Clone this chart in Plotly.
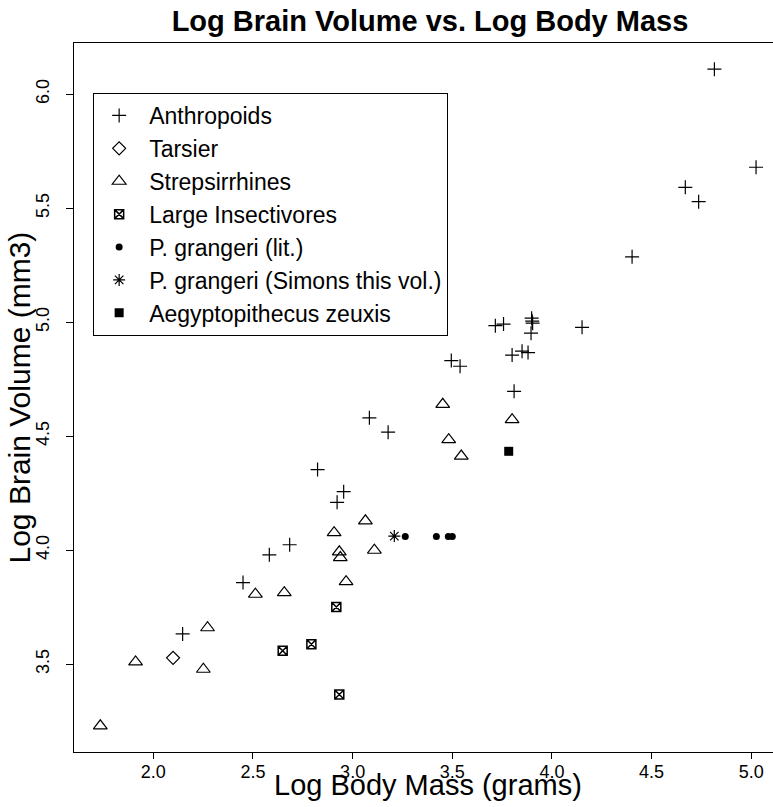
import plotly.graph_objects as go

# ---- data (log10 body mass in grams, log10 brain volume in mm3) ----
anthro_x = [2.147, 2.450, 2.582, 2.684, 2.824, 2.922, 2.955, 3.084, 3.178, 3.495,
            3.539, 3.716, 3.757, 3.800, 3.810, 3.850, 3.880, 3.895, 3.898, 3.901,
            3.903, 4.151, 4.402, 4.669, 4.736, 4.815, 5.024]
anthro_y = [3.633, 3.858, 3.980, 4.024, 4.354, 4.210, 4.257, 4.581, 4.518, 4.832,
            4.807, 4.985, 4.992, 4.856, 4.697, 4.873, 4.867, 4.952, 5.018, 5.005,
            4.996, 4.978, 5.287, 5.592, 5.529, 6.110, 5.680]

tarsier_x = [2.099]
tarsier_y = [3.528]

strep_x = [1.734, 1.911, 2.251, 2.272, 2.512, 2.657, 2.907, 2.933, 2.938, 2.967,
           3.064, 3.109, 3.452, 3.482, 3.545, 3.800]
strep_y = [3.230, 3.510, 3.478, 3.660, 3.807, 3.814, 4.077, 3.993, 3.968, 3.862,
           4.129, 4.000, 4.640, 4.485, 4.413, 4.573]

insect_x = [2.649, 2.793, 2.918, 2.933]
insect_y = [3.559, 3.588, 3.751, 3.367]

lit_x = [3.264, 3.420, 3.480, 3.500]
lit_y = [4.060, 4.060, 4.060, 4.060]

simons_x = [3.209]
simons_y = [4.062]

aegypto_x = [3.783]
aegypto_y = [4.434]

x_ticks = [2.0, 2.5, 3.0, 3.5, 4.0, 4.5, 5.0]
y_ticks = [3.5, 4.0, 4.5, 5.0, 5.5, 6.0]

FONT = "Liberation Sans, Arial, Helvetica, sans-serif"

fig = go.Figure()

def add(name, xs, ys, symbol, size, lw=1.0):
    fig.add_trace(go.Scatter(
        x=xs, y=ys, mode="markers", name=name,
        marker=dict(symbol=symbol, size=size, color="black",
                    line=dict(color="black", width=lw)),
    ))

add("Anthropoids", anthro_x, anthro_y, "cross-thin-open", 10, 1.2)
add("Tarsier", tarsier_x, tarsier_y, "diamond-open", 10, 1.2)
add("Strepsirrhines", strep_x, strep_y, "triangle-up-open", 12, 1.2)
add("Large Insectivores", insect_x, insect_y, "square-x-open", 9, 1.5)
add("P. grangeri (lit.)", lit_x, lit_y, "circle", 7, 0)
add("P. grangeri (Simons this vol.)", simons_x, simons_y, "asterisk-open", 10, 1.2)
add("Aegyptopithecus zeuxis", aegypto_x, aegypto_y, "square", 9, 0)

fig.update_layout(
    width=773, height=807,
    margin=dict(l=74, r=0, t=43, b=55),
    paper_bgcolor="white", plot_bgcolor="white",
    font=dict(family=FONT, color="black"),
    title=dict(text="<b>Log Brain Volume vs. Log Body Mass</b>",
               font=dict(size=29, family=FONT, color="black"),
               x=430 / 773, xref="container", xanchor="center",
               y=1 - 21 / 807, yref="container", yanchor="middle"),
    showlegend=True,
    legend=dict(x=0.0274, y=0.9295, xanchor="left", yanchor="top",
                bgcolor="white", bordercolor="black", borderwidth=1,
                font=dict(size=23, family=FONT, color="black"),
                itemsizing="trace", itemwidth=50, indentation=-5),
    annotations=[
        dict(text="Log Body Mass (grams)", xref="paper", yref="paper",
             x=(428 - 74) / 699, y=-(785 - 752) / 709,
             xanchor="center", yanchor="middle", showarrow=False,
             font=dict(size=29, family=FONT, color="black")),
        dict(text="Log Brain Volume (mm3)", xref="paper", yref="paper",
             x=-(74 - 19) / 699, y=0.5, textangle=-90,
             xanchor="center", yanchor="middle", showarrow=False,
             font=dict(size=30, family=FONT, color="black")),
    ],
)

fig.update_xaxes(
    range=[1.602, 5.109], tickvals=x_ticks,
    ticktext=[f"{v:.1f}" for v in x_ticks],
    showgrid=False, zeroline=False,
    showline=True, linecolor="black", linewidth=1, mirror=True,
    ticks="outside", ticklen=6, tickcolor="black", tickwidth=1,
    ticklabelstandoff=-3,
    tickfont=dict(size=18, family=FONT, color="black"),
)
fig.update_yaxes(
    range=[3.115, 6.225], tickvals=y_ticks,
    ticktext=[f"{v:.1f}" for v in y_ticks],
    showgrid=False, zeroline=False,
    showline=True, linecolor="black", linewidth=1, mirror=False,
    ticks="outside", ticklen=7, tickcolor="black", tickwidth=1,
    tickangle=-90, ticklabelstandoff=10,
    tickfont=dict(size=18, family=FONT, color="black"),
)

fig.write_html("out.html", config={"displayModeBar": False},
               post_script="document.body.style.margin='0';document.body.style.overflow='hidden';")
